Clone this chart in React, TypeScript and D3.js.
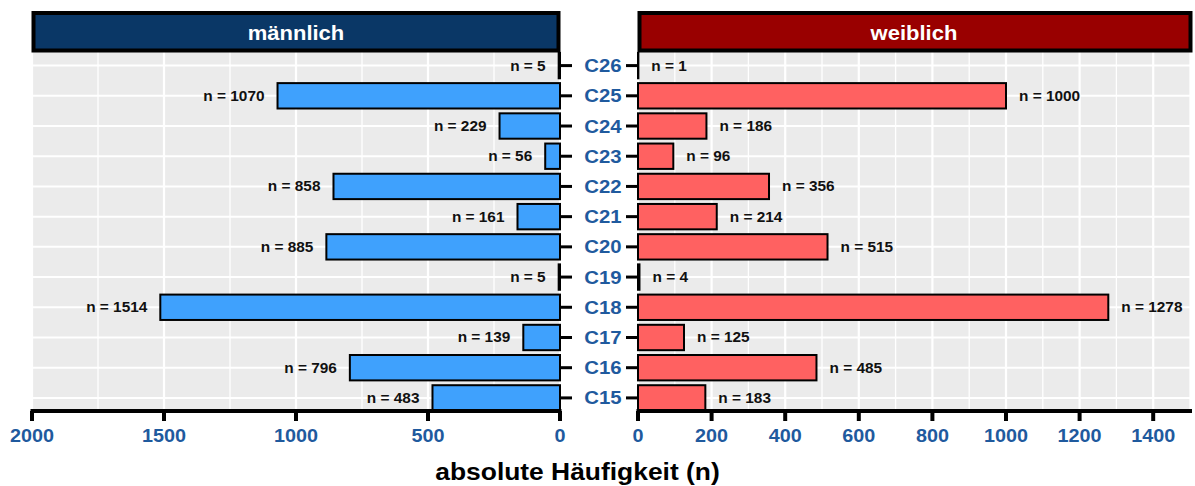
import React from "react";
import * as d3 from "d3";

const categories = ["C15", "C16", "C17", "C18", "C19", "C20", "C21", "C22", "C23", "C24", "C25", "C26"];
const maleValues = [483, 796, 139, 1514, 5, 885, 161, 858, 56, 229, 1070, 5];
const femaleValues = [183, 485, 125, 1278, 4, 515, 214, 356, 96, 186, 1000, 1];
const leftTicks = [0, 500, 1000, 1500, 2000];
const leftMinor = [250, 750, 1250, 1750];
const rightTicks = [0, 200, 400, 600, 800, 1000, 1200, 1400];
const rightMinor = [100, 300, 500, 700, 900, 1100, 1300, 1500];

const W = 1195;
const H = 486;
const FONT = "'Liberation Sans', Arial, Helvetica, sans-serif";
const BLUE_TXT = "#1F5A9E";

function SText(props: {
  x: number; y: number; sx?: number; size: number; anchor?: string; fill?: string; children: React.ReactNode;
}) {
  const { x, y, sx = 1.1, size, anchor = "middle", fill = "#000", children } = props;
  return (
    <g transform={`translate(${x},${y}) scale(${sx},1)`}>
      <text x={0} y={0} fontSize={size} fontWeight="bold" textAnchor={anchor} fill={fill} fontFamily={FONT}>
        {children}
      </text>
    </g>
  );
}

export default function App() {
  const xL = d3.scaleLinear().domain([0, 2000]).range([560, 32]);
  const xR = d3.scaleLinear().domain([0, 1500]).range([638, 1190]);
  const y = d3.scalePoint<string>().domain(categories).range([411.5, 52]).padding(0.45);
  const step = y.step();
  const barH = step * 0.84;
  const panelTop = 52;
  const panelBottom = 411;
  const gap = 13;

  const rows = categories.map((c, i) => ({ c, m: maleValues[i], f: femaleValues[i] }));

  return (
    <svg width={W} height={H} style={{ position: "absolute", left: 0, top: 0 }}>
      <rect x={0} y={0} width={W} height={H} fill="#fff" />
      {/* Left panel */}
      <rect x={xL(2000)} y={panelTop} width={xL(0) - xL(2000)} height={panelBottom - panelTop} fill="#EBEBEB" />
      {leftMinor.map((t) => (
        <line key={"lm" + t} x1={xL(t)} x2={xL(t)} y1={panelTop} y2={panelBottom} stroke="#fff" strokeWidth={1.3} />
      ))}
      {leftTicks.map((t) => (
        <line key={"lM" + t} x1={xL(t)} x2={xL(t)} y1={panelTop} y2={panelBottom} stroke="#fff" strokeWidth={2.2} />
      ))}
      {categories.map((c) => (
        <line key={"lh" + c} x1={xL(2000)} x2={xL(0)} y1={y(c)} y2={y(c)} stroke="#fff" strokeWidth={2} />
      ))}
      {/* Right panel */}
      <rect x={xR(0)} y={panelTop} width={xR(1500) - xR(0)} height={panelBottom - panelTop} fill="#EBEBEB" />
      {rightMinor.map((t) => (
        <line key={"rm" + t} x1={xR(t)} x2={xR(t)} y1={panelTop} y2={panelBottom} stroke="#fff" strokeWidth={1.3} />
      ))}
      {rightTicks.map((t) => (
        <line key={"rM" + t} x1={xR(t)} x2={xR(t)} y1={panelTop} y2={panelBottom} stroke="#fff" strokeWidth={2.2} />
      ))}
      {categories.map((c) => (
        <line key={"rh" + c} x1={xR(0)} x2={xR(1500)} y1={y(c)} y2={y(c)} stroke="#fff" strokeWidth={2} />
      ))}

      {/* Bars */}
      {rows.map((r) => (
        <g key={"b" + r.c}>
          <rect
            x={xL(r.m)}
            y={(y(r.c) as number) - barH / 2}
            width={xL(0) - xL(r.m)}
            height={barH}
            fill="#3FA1FD"
            stroke="#000"
            strokeWidth={2}
          />
          <rect
            x={xR(0)}
            y={(y(r.c) as number) - barH / 2}
            width={xR(r.f) - xR(0)}
            height={barH}
            fill="#FF6161"
            stroke="#000"
            strokeWidth={2}
          />
          <SText x={xL(r.m) - gap} y={(y(r.c) as number) + 5} size={14} anchor="end" fill="#111">
            {`n = ${r.m}`}
          </SText>
          <SText x={xR(r.f) + gap} y={(y(r.c) as number) + 5} size={14} anchor="start" fill="#111">
            {`n = ${r.f}`}
          </SText>
          {/* category ticks */}
          <line x1={xL(0)} x2={xL(0) + 12} y1={y(r.c)} y2={y(r.c)} stroke="#000" strokeWidth={3} />
          <line x1={xR(0) - 12} x2={xR(0)} y1={y(r.c)} y2={y(r.c)} stroke="#000" strokeWidth={3} />
          <SText x={(xL(0) + xR(0)) / 2 + 4} y={(y(r.c) as number) + 6.5} size={18.5} fill={BLUE_TXT}>
            {r.c}
          </SText>
        </g>
      ))}

      {/* Strips */}
      <rect x={xL(2000) + 1.5} y={13} width={xL(0) - xL(2000) - 3} height={37.5} fill="#0A3766" stroke="#000" strokeWidth={4} />
      <SText x={(xL(2000) + xL(0)) / 2} y={39.5} size={20} fill="#fff">
        männlich
      </SText>
      <rect x={xR(0) + 1.5} y={13} width={xR(1500) - xR(0) - 1} height={37.5} fill="#990000" stroke="#000" strokeWidth={4} />
      <SText x={(xR(0) + xR(1500)) / 2} y={39.5} size={20} fill="#fff">
        weiblich
      </SText>

      {/* Axes */}
      <line x1={xL(2000) - 1.5} x2={xL(0) + 1.5} y1={411} y2={411} stroke="#000" strokeWidth={4} />
      {leftTicks.map((t) => (
        <g key={"lt" + t}>
          <line x1={xL(t)} x2={xL(t)} y1={411} y2={421} stroke="#000" strokeWidth={4} />
          <SText x={xL(t)} y={442} size={18} fill={BLUE_TXT}>
            {String(t)}
          </SText>
        </g>
      ))}
      <line x1={xR(0) - 1.5} x2={xR(1500) + 2} y1={411} y2={411} stroke="#000" strokeWidth={4} />
      {rightTicks.map((t) => (
        <g key={"rt" + t}>
          <line x1={xR(t)} x2={xR(t)} y1={411} y2={421} stroke="#000" strokeWidth={4} />
          <SText x={xR(t)} y={442} size={18} fill={BLUE_TXT}>
            {String(t)}
          </SText>
        </g>
      ))}

      <SText x={577.5} y={480} size={24} fill="#000">
        absolute Häufigkeit (n)
      </SText>
    </svg>
  );
}
